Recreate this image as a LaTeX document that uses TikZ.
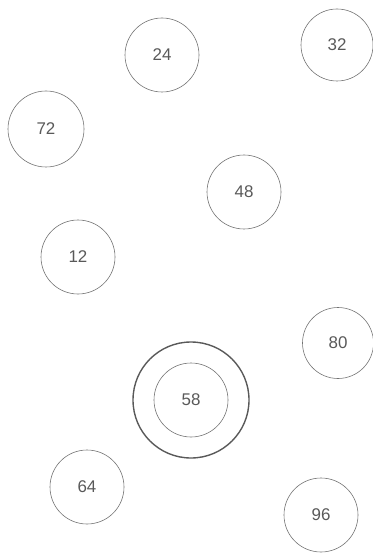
\documentclass[tikz,border=0pt]{standalone}
\usepackage{fontspec}
\setmainfont{Liberation Sans}
\tikzset{
  ball/.style={draw=black!55, circle, line width=0.6pt, minimum size=74bp, inner sep=0pt, text=black!65, font=\fontsize{17}{17}\selectfont},
  ring/.style={draw=black!65, circle, line width=1.4pt, minimum size=116bp, inner sep=0pt}
}
\begin{document}
\begin{tikzpicture}[x=1bp, y=-1bp]
\useasboundingbox (0,0) rectangle (372,556);
\node[ball] (n24) at (162,55) {24};
\node[ball, minimum size=72bp] (n32) at (337,45) {32};
\node[ball, minimum size=76bp] (n72) at (46,129) {72};
\node[ball] (n48) at (244,192) {48};
\node[ball] (n12) at (78,257) {12};
\node[ball, minimum size=71bp] (n80) at (338,343) {80};
\node[ring] (outer) at (191,400) {};
\node[ball] (n58) at (191,400) {58};
\node[ball] (n64) at (87,487) {64};
\node[ball] (n96) at (321,515) {96};
\end{tikzpicture}
\end{document}
